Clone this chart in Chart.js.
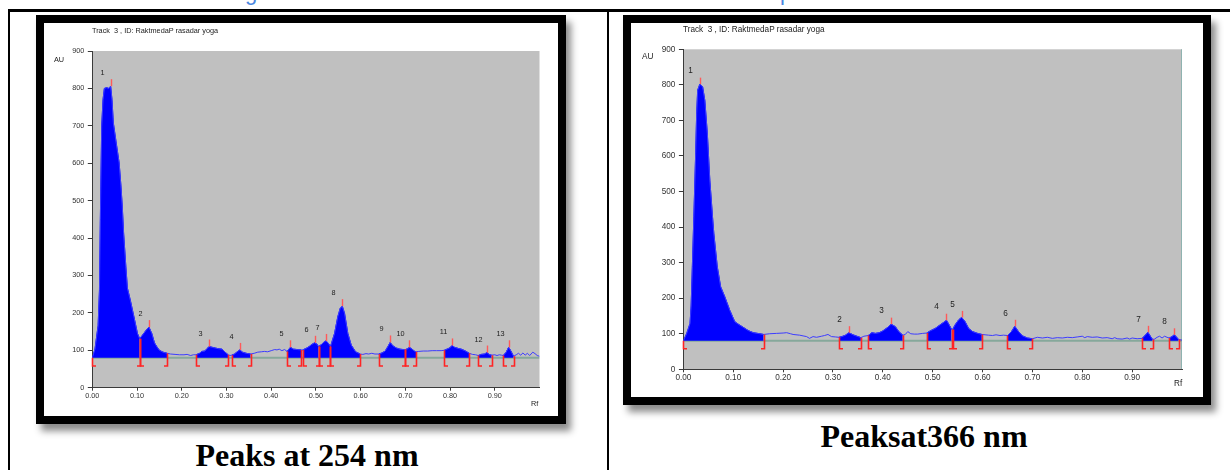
<!DOCTYPE html>
<html>
<head>
<meta charset="utf-8">
<title>Peaks at 254 nm / 366 nm</title>
<script src="https://cdn.jsdelivr.net/npm/chart.js@4.4.1/dist/chart.umd.min.js"></script>
<style>
  html, body { margin: 0; padding: 0; background: #fff; }
  body { width: 1230px; height: 470px; position: relative; overflow: hidden; font-family: "Liberation Sans", Arial, sans-serif; }
  .rule { position: absolute; background: #000; }
  .frame { position: absolute; box-sizing: border-box; border: 8px solid #000; background: #fff; box-shadow: 5px 7px 7px rgba(0, 0, 0, 0.45); }
  .frame canvas { display: block; }
  .small { position: absolute; color: #222; white-space: pre; line-height: 1; }
  .caption { position: absolute; font-family: "Liberation Serif", "Times New Roman", serif; font-weight: bold; font-size: 32px; line-height: 32px; color: #000; white-space: nowrap; transform: translateX(-50%); }
  .heading-tail { position: absolute; top: -18px; font-size: 22px; line-height: 22px; color: #4a86e0; }
</style>
</head>
<body>
  <span class="heading-tail" style="left:245px">g</span>
  <span class="heading-tail" style="left:780px">p</span>

  <div class="rule" style="left:8px; top:9px; width:1222px; height:3px"></div>
  <div class="rule" style="left:8px; top:9px; width:2px; height:461px"></div>
  <div class="rule" style="left:607px; top:9px; width:2px; height:461px"></div>

  <div class="frame" style="left:36px; top:15px; width:530px; height:409px">
    <canvas id="chart-254" width="514" height="393"></canvas>
  </div>
  <div class="small" style="left:92px; top:27px; font-size:7.3px">Track  3 , ID: RaktmedaP rasadar yoga</div>
  <div class="small" style="left:54px; top:55.5px; font-size:7.3px">AU</div>
  <div class="small" style="left:531px; top:399.5px; font-size:7.3px">Rf</div>
  <div class="caption" style="left:307px; top:439px">Peaks at 254 nm</div>

  <div class="frame" style="left:623px; top:15px; width:588px; height:390px">
    <canvas id="chart-366" width="572" height="374"></canvas>
  </div>
  <div class="small" style="left:683px; top:26px; font-size:8.2px">Track  3 , ID: RaktmedaP rasadar yoga</div>
  <div class="small" style="left:642px; top:53px; font-size:8.2px">AU</div>
  <div class="small" style="left:1174px; top:380px; font-size:8.2px">Rf</div>
  <div class="caption" style="left:924px; top:420px">Peaksat366 nm</div>

<script>
// densitogram traces (Rf, AU)
const rf254 = [
  0.000, 0.006, 0.013, 0.016, 0.018, 0.021, 0.024, 0.027, 0.032, 0.037, 0.041, 0.044, 0.047, 0.054, 0.060, 0.064, 0.067, 0.070, 0.075, 0.0785, 0.085, 0.093, 0.101, 0.1059,
  0.112, 0.120, 0.1267, 0.133, 0.139, 0.145, 0.150, 0.158, 0.1674,
  0.175, 0.185, 0.195, 0.205, 0.212, 0.220, 0.226, 0.232,
  0.240, 0.245, 0.252, 0.256, 0.2615, 0.268, 0.275, 0.283, 0.290, 0.297, 0.3037,
  0.308, 0.3119, 0.318, 0.324, 0.3296, 0.336, 0.344, 0.354,
  0.362, 0.370, 0.378, 0.385, 0.392, 0.400, 0.408, 0.413, 0.418, 0.424, 0.430, 0.4356,
  0.443, 0.450, 0.458, 0.4667, 0.4704, 0.478, 0.485, 0.490, 0.497, 0.502, 0.5059,
  0.512, 0.518, 0.5222, 0.527, 0.5326,
  0.5417, 0.549, 0.5544, 0.559, 0.564, 0.5714, 0.579, 0.5886, 0.599,
  0.605, 0.612, 0.618, 0.625, 0.632, 0.6406,
  0.648, 0.655, 0.661, 0.666, 0.672, 0.680, 0.688, 0.695, 0.700,
  0.705, 0.709, 0.715, 0.720, 0.724,
  0.730, 0.740, 0.750, 0.760, 0.770, 0.780, 0.787,
  0.795, 0.800, 0.8045, 0.810, 0.818, 0.825, 0.833, 0.840, 0.843,
  0.850, 0.857, 0.863,
  0.870, 0.877, 0.8826, 0.888, 0.893,
  0.900, 0.905, 0.910, 0.915, 0.919,
  0.925, 0.931, 0.936, 0.942,
  0.948, 0.953, 0.958, 0.963, 0.968, 0.973, 0.978, 0.985, 0.990, 0.995, 1.000
];
const au254 = [
  80, 103, 166, 260, 450, 698, 770, 800, 802, 800, 806, 770, 708, 650, 601, 540, 485, 413, 324, 266, 234, 190, 145, 131,
  140, 153, 162, 145, 120, 108, 100, 95, 92,
  90, 89, 88, 88, 89, 86, 88, 88,
  92, 97, 98, 104, 110, 108, 106, 104, 103, 95, 88,
  86, 87, 90, 96, 101, 95, 92, 90,
  92, 95, 96, 97, 96, 99, 102, 101, 103, 99, 102, 97,
  108, 103, 102, 101, 101, 105, 110, 115, 120, 117, 110,
  115, 122, 125, 120, 110,
  145, 190, 212, 218, 199, 145, 114, 96, 90,
  89, 91, 90, 92, 90, 90,
  93, 98, 110, 121, 112, 106, 103, 102, 102,
  104, 108, 103, 98, 96,
  97, 98, 98, 99, 99, 99, 100,
  104, 107, 113, 108, 105, 103, 99, 94, 92,
  89, 88, 86,
  89, 90, 94, 88, 87,
  88, 86, 88, 87, 86,
  94, 108, 98, 84,
  88, 92, 87, 93, 87, 92, 86, 95, 91, 86, 84
];
const peakStart254 = [0.000, 0.1059, 0.232, 0.3119, 0.4356, 0.4704, 0.5059, 0.5326, 0.6406, 0.700, 0.787, 0.863, 0.919];
const peakEnd254 = [0.1059, 0.1674, 0.3037, 0.354, 0.4667, 0.5059, 0.5326, 0.599, 0.700, 0.724, 0.843, 0.893, 0.942];
const peakMax254 = [0.041, 0.1267, 0.2615, 0.3296, 0.443, 0.497, 0.5222, 0.559, 0.666, 0.709, 0.8045, 0.8826, 0.931];

const rf366 = [
  0.000, 0.0067, 0.0133, 0.0155, 0.018, 0.021, 0.0246, 0.0266, 0.0286, 0.033, 0.0386, 0.043, 0.048, 0.053, 0.0586, 0.061, 0.068, 0.0747, 0.083, 0.093, 0.103, 0.110, 0.120, 0.130, 0.140, 0.153, 0.161,
  0.173, 0.187, 0.200, 0.207, 0.215, 0.220, 0.233, 0.240, 0.247, 0.253, 0.260, 0.267, 0.277, 0.283, 0.290, 0.297, 0.305, 0.312,
  0.318, 0.325, 0.332, 0.340, 0.348, 0.356,
  0.362, 0.3707,
  0.378, 0.385, 0.393, 0.400, 0.410, 0.4167, 0.425, 0.432, 0.440,
  0.445, 0.450, 0.456, 0.463, 0.470, 0.480, 0.488,
  0.495, 0.505, 0.515, 0.523, 0.5276, 0.533, 0.538,
  0.540, 0.545, 0.552, 0.558, 0.565, 0.572, 0.580, 0.590, 0.5986,
  0.605, 0.612, 0.620, 0.627, 0.635, 0.642, 0.650,
  0.658, 0.6646, 0.672, 0.680, 0.690, 0.700,
  0.710, 0.720, 0.730, 0.740, 0.750, 0.760, 0.770, 0.780, 0.790, 0.800, 0.805, 0.810, 0.820, 0.830, 0.840, 0.850, 0.860, 0.865, 0.870, 0.880, 0.890, 0.895, 0.900, 0.910, 0.920,
  0.926, 0.9316, 0.937, 0.941,
  0.945, 0.950, 0.955, 0.960, 0.965, 0.970, 0.9746,
  0.980, 0.9846, 0.990, 0.993,
  1.000
];
const au366 = [
  80, 101, 129, 178, 290, 430, 607, 719, 785, 802, 794, 756, 663, 532, 425, 382, 288, 232, 204, 166, 134, 127, 118, 109, 103, 100, 98,
  100, 101, 102, 103, 100, 98, 96, 94, 92, 87, 92, 90, 93, 95, 98, 92, 91, 90,
  92, 96, 103, 97, 93, 89,
  93, 95,
  103, 101, 103, 108, 118, 127, 120, 106, 96,
  98, 106, 100, 99, 99, 101, 102,
  108, 115, 125, 133, 138, 125, 112,
  112, 125, 139, 146, 134, 115, 106, 101, 98,
  97, 96, 95, 97, 95, 96, 95,
  106, 121, 106, 94, 88, 86,
  90, 88, 90, 87, 89, 88, 90, 89, 91, 93, 89, 92, 90, 91, 88, 89, 86, 89, 86, 85, 88, 85, 88, 86, 87,
  95, 104, 92, 84,
  85, 90, 93, 88, 93, 90, 88,
  92, 97, 89, 84,
  82
];
const peakStart366 = [0.000, 0.312, 0.3707, 0.488, 0.540, 0.650, 0.920, 0.9746];
const peakEnd366 = [0.161, 0.356, 0.440, 0.538, 0.5986, 0.700, 0.941, 0.993];
const peakMax366 = [0.033, 0.332, 0.4167, 0.5276, 0.558, 0.6646, 0.9316, 0.9846];

const BASELINE_AU = 80;
const MARK_FOOT_AU = 58;

function traceValueAt(rf, rfs, aus) {
  for (let i = 1; i < rfs.length; i++) {
    if (rf <= rfs[i]) {
      const t = (rf - rfs[i - 1]) / (rfs[i] - rfs[i - 1]);
      return aus[i - 1] + t * (aus[i] - aus[i - 1]);
    }
  }
  return aus[aus.length - 1];
}

function toPoints(rfs, aus) {
  return rfs.map((rf, i) => ({ x: rf, y: aus[i] }));
}

function windowPoints(start, end, rfs, aus) {
  return toPoints(rfs, aus).filter((p) => p.x >= start - 1e-6 && p.x <= end + 1e-6);
}

function makePlotBackgroundPlugin(look) {
  return {
    id: "plotBackground",
    beforeDraw(chart) {
      const { ctx, chartArea } = chart;
      ctx.save();
      ctx.fillStyle = "#c0c0c0";
      ctx.fillRect(chartArea.left, chartArea.top, chartArea.right - chartArea.left, chartArea.bottom - chartArea.top);
      if (look.rightEdge) {
        ctx.strokeStyle = "#8fb3b0";
        ctx.lineWidth = 1;
        ctx.beginPath();
        ctx.moveTo(Math.round(chartArea.right) - 0.5, chartArea.top);
        ctx.lineTo(Math.round(chartArea.right) - 0.5, chartArea.bottom);
        ctx.stroke();
      }
      ctx.restore();
    }
  };
}

function makePeakMarksPlugin(rfs, aus, starts, ends, maxima, look) {
  return {
    id: "peakMarks",
    afterDatasetsDraw(chart) {
      const { ctx } = chart;
      const xScale = chart.scales.x;
      const yScale = chart.scales.y;
      const footY = yScale.getPixelForValue(MARK_FOOT_AU);

      ctx.save();
      ctx.strokeStyle = "#ff2424";
      ctx.lineWidth = 1.6;

      function drawBound(rf, side) {
        const px = Math.round(xScale.getPixelForValue(rf)) + 0.5;
        const top = yScale.getPixelForValue(Math.max(traceValueAt(rf, rfs, aus), BASELINE_AU));
        ctx.beginPath();
        ctx.moveTo(px, top);
        ctx.lineTo(px, footY);
        ctx.lineTo(px + side * 3.5, footY);
        ctx.stroke();
      }

      starts.forEach((rf) => drawBound(rf, 1));
      ends.forEach((rf) => drawBound(rf, -1));

      ctx.strokeStyle = "#ff5a5a";
      ctx.lineWidth = 1.4;
      ctx.fillStyle = "#222";
      ctx.font = `${look.font}px "Liberation Sans", Arial, sans-serif`;
      ctx.textAlign = "center";
      ctx.textBaseline = "middle";

      maxima.forEach((rf, i) => {
        const px = Math.round(xScale.getPixelForValue(rf)) + 0.5;
        const top = yScale.getPixelForValue(traceValueAt(rf, rfs, aus));
        ctx.beginPath();
        ctx.moveTo(px, top);
        ctx.lineTo(px, top - look.tickRise);
        ctx.stroke();
        ctx.fillText(String(i + 1), px - look.labelDx, top - look.labelDy);
      });

      ctx.restore();
    }
  };
}

function createChromatogram(canvas, rfs, aus, starts, ends, maxima, look) {
  const fillSets = starts.map((start, i) => ({
    data: windowPoints(start, ends[i], rfs, aus),
    borderColor: "#0000ff",
    borderWidth: 1,
    backgroundColor: "#0000ff",
    fill: { value: BASELINE_AU },
    pointRadius: 0,
    tension: 0
  }));

  const tickFont = { family: '"Liberation Sans", Arial, sans-serif', size: look.font };

  return new Chart(canvas, {
    type: "line",
    data: {
      datasets: [
        {
          data: toPoints(rfs, aus),
          borderColor: "#3c3cff",
          borderWidth: 1,
          pointRadius: 0,
          fill: false,
          tension: 0
        },
        ...fillSets,
        {
          data: [{ x: 0, y: BASELINE_AU }, { x: 1, y: BASELINE_AU }],
          borderColor: "#86a89b",
          borderWidth: 2,
          pointRadius: 0,
          fill: false
        }
      ]
    },
    options: {
      responsive: false,
      animation: false,
      devicePixelRatio: 1,
      events: [],
      layout: {
        padding: { left: 0, top: look.padTop, right: look.padRight, bottom: 0 }
      },
      plugins: {
        legend: { display: false },
        tooltip: { enabled: false },
        title: { display: false }
      },
      scales: {
        x: {
          type: "linear",
          min: 0,
          max: 1,
          afterFit(scale) {
            scale.height = look.xAxisHeight;
          },
          border: { display: true, color: "#3a3a3a", width: 1 },
          grid: {
            drawOnChartArea: false,
            drawTicks: true,
            tickLength: 3,
            color: (ctx) => (ctx.tick && ctx.tick.value > 0.999 ? "rgba(0,0,0,0)" : "#3a3a3a")
          },
          ticks: {
            stepSize: 0.1,
            autoSkip: false,
            maxRotation: 0,
            padding: 1,
            color: "#333",
            font: tickFont,
            callback: (value) => (value > 0.999 ? "" : Number(value).toFixed(2))
          }
        },
        y: {
          min: 0,
          max: 900,
          afterFit(scale) {
            scale.width = look.yAxisWidth;
          },
          border: { display: true, color: "#3a3a3a", width: 1 },
          grid: {
            drawOnChartArea: false,
            drawTicks: true,
            tickLength: 4.5,
            color: "#3a3a3a"
          },
          ticks: {
            stepSize: 100,
            padding: 3.5,
            color: "#333",
            font: tickFont
          }
        }
      }
    },
    plugins: [makePlotBackgroundPlugin(look), makePeakMarksPlugin(rfs, aus, starts, ends, maxima, look)]
  });
}

createChromatogram(document.getElementById("chart-254"), rf254, au254, peakStart254, peakEnd254, peakMax254, {
  font: 7.3,
  padTop: 28,
  padRight: 18.5,
  yAxisWidth: 48.3,
  xAxisHeight: 28.3,
  tickRise: 7,
  labelDx: 9,
  labelDy: 13,
  rightEdge: false
});

createChromatogram(document.getElementById("chart-366"), rf366, au366, peakStart366, peakEnd366, peakMax366, {
  font: 8.2,
  padTop: 26.3,
  padRight: 21,
  yAxisWidth: 52.4,
  xAxisHeight: 27.7,
  tickRise: 6.5,
  labelDx: 10,
  labelDy: 13,
  rightEdge: true
});
</script>
</body>
</html>
